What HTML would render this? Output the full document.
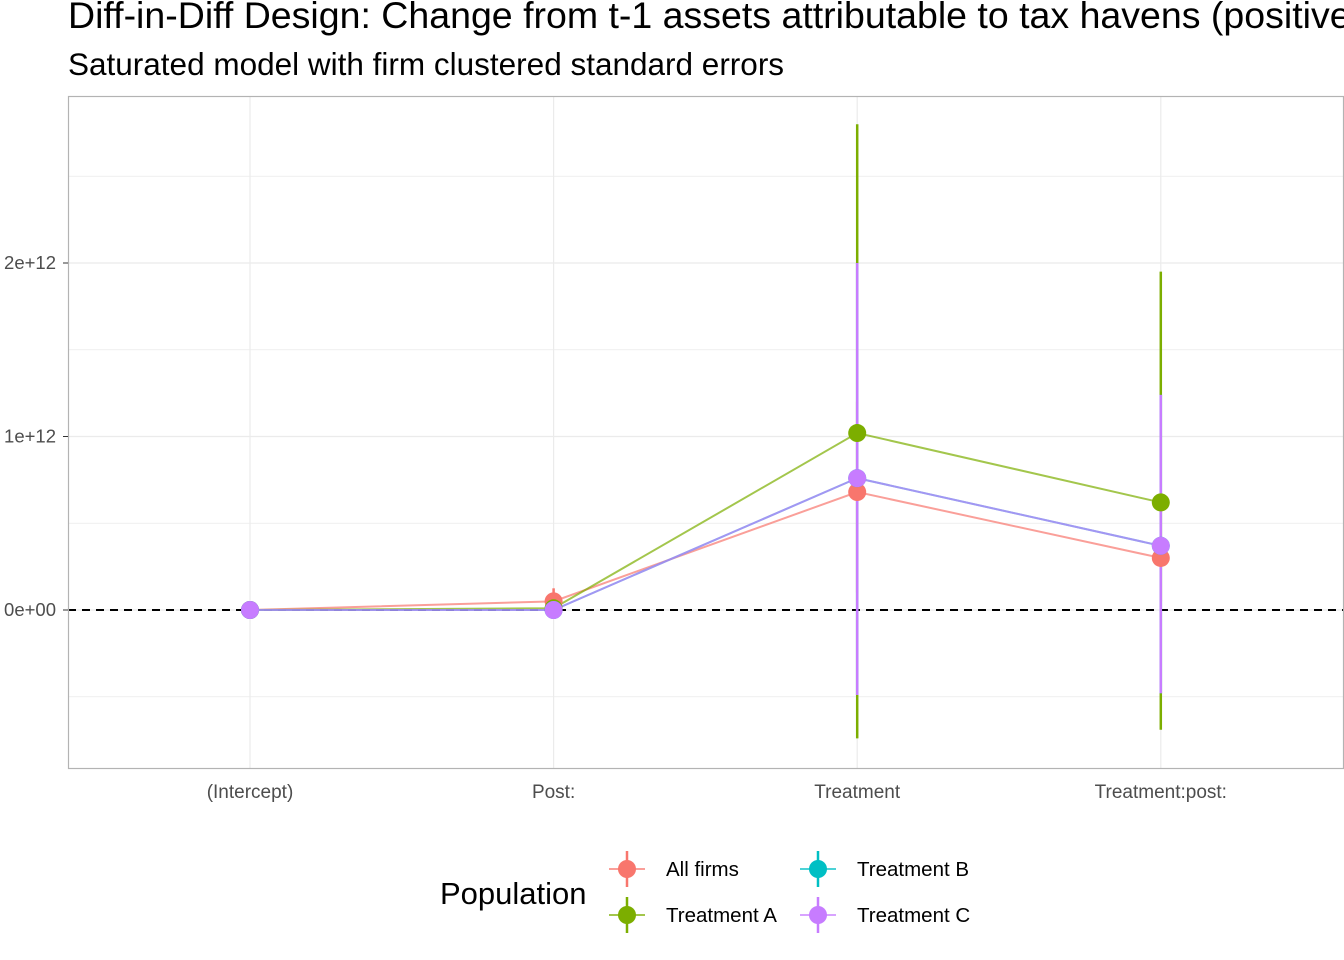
<!DOCTYPE html>
<html><head><meta charset="utf-8"><style>
body{margin:0;background:#fff;}
svg{display:block;font-family:"Liberation Sans",Arial,sans-serif;}
</style></head><body>
<svg id="chart" width="1344" height="960" viewBox="0 0 1344 960" xmlns="http://www.w3.org/2000/svg">
<text x="68" y="28" font-size="37.5" fill="#000">Diff-in-Diff Design: Change from t-1 assets attributable to tax havens (positive)</text>
<text x="68" y="75" font-size="31.5" fill="#000">Saturated model with firm clustered standard errors</text>
<g id="grid"></g>
<g id="marks"></g>
<rect x="68.5" y="96.5" width="1275" height="672" fill="none" stroke="#b3b3b3" stroke-width="1.2"/>
<g id="axes"></g>
<g id="legend">
<text x="440" y="904" font-size="31" fill="#000">Population</text>
</g>
</svg>
<script>
const categories=["(Intercept)","Post:","Treatment","Treatment:post:"];
const yTicks=[0,1e12,2e12];
const yTickLabels=["0e+00","1e+12","2e+12"];
const seriesNames=["All firms","Treatment A","Treatment B","Treatment C"];
const seriesColors=["#F8766D","#7CAE00","#00BFC4","#C77CFF"];
const estAll=[0,0.05e12,0.68e12,0.30e12];
const loAll=[0,-0.015e12,0.1e12,0.05e12];
const hiAll=[0,0.125e12,1.2e12,0.6e12];
const estA=[0,0.01e12,1.02e12,0.62e12];
const loA=[0,0,-0.74e12,-0.69e12];
const hiA=[0,0.02e12,2.80e12,1.95e12];
const estB=[0,0,0.76e12,0.37e12];
const loB=[0,0,-0.49e12,-0.48e12];
const hiB=[0,0,2.0e12,1.24e12];
const estC=[0,0,0.76e12,0.37e12];
const loC=[0,0,-0.49e12,-0.48e12];
const hiC=[0,0,2.0e12,1.24e12];
const NS="http://www.w3.org/2000/svg";
const x=i=>250+i*303.6;
const y=v=>610-v*173.5/1e12;
function mk(tag,attrs,parent){const e=document.createElementNS(NS,tag);for(const k in attrs)e.setAttribute(k,attrs[k]);parent.appendChild(e);return e;}
const grid=document.getElementById('grid'),marks=document.getElementById('marks'),axes=document.getElementById('axes'),legend=document.getElementById('legend');
for(let v=-0.5e12;v<=2.5e12+1;v+=0.5e12){const g=mk('line',{x1:68,x2:1343,y1:y(v),y2:y(v),stroke:'#ebebeb','stroke-width':Math.abs(v/1e12%1)<0.01?1.2:0.8},grid);

}
categories.forEach((c,i)=>{const g=mk('line',{x1:x(i),x2:x(i),y1:96,y2:768,stroke:'#ebebeb','stroke-width':1.2},grid);


const t=mk('text',{x:x(i),y:798,'font-size':19,fill:'#4d4d4d','text-anchor':'middle'},axes);t.textContent=c;

});
yTicks.forEach((v,i)=>{const t=mk('text',{x:56,y:y(v)+6,'font-size':18.5,fill:'#4d4d4d','text-anchor':'end'},axes);t.textContent=yTickLabels[i];


const tk=mk('line',{x1:63,x2:68,y1:y(v),y2:y(v),stroke:'#333'},axes);

});
const zl=mk('line',{x1:68,x2:1343,y1:y(0),y2:y(0),stroke:'#000','stroke-width':2,'stroke-dasharray':'8,6'},marks);


const S=[[estAll,loAll,hiAll],[estA,loA,hiA],[estB,loB,hiB],[estC,loC,hiC]];
S.forEach((s,k)=>{const pts=s[0].map((v,i)=>x(i)+','+y(v)).join(' ');
const pl=mk('polyline',{points:pts,fill:'none',stroke:seriesColors[k],'stroke-width':2,'stroke-opacity':0.7},marks);

});
S.forEach((s,k)=>{s[0].forEach((v,i)=>{const eb=mk('line',{x1:x(i),x2:x(i),y1:y(s[1][i]),y2:y(s[2][i]),stroke:seriesColors[k],'stroke-width':2.5},marks);

});});
S.forEach((s,k)=>{s[0].forEach((v,i)=>{const p=mk('circle',{cx:x(i),cy:y(v),r:9,fill:seriesColors[k]},marks);

});});
const lpos=[[627,869],[627,915],[818,869],[818,915]];
seriesNames.forEach((n,k)=>{const [cx,cy]=lpos[k];const g=mk('g',{},legend);


mk('line',{x1:cx-18,x2:cx+18,y1:cy,y2:cy,stroke:seriesColors[k],'stroke-width':2,'stroke-opacity':0.7},g);
mk('line',{x1:cx,x2:cx,y1:cy-18,y2:cy+18,stroke:seriesColors[k],'stroke-width':2.5},g);
mk('circle',{cx:cx,cy:cy,r:9,fill:seriesColors[k]},g);
const t=mk('text',{x:cx+39,y:cy+7,'font-size':20.5,fill:'#000'},g);t.textContent=n;});
</script>
</body></html>
